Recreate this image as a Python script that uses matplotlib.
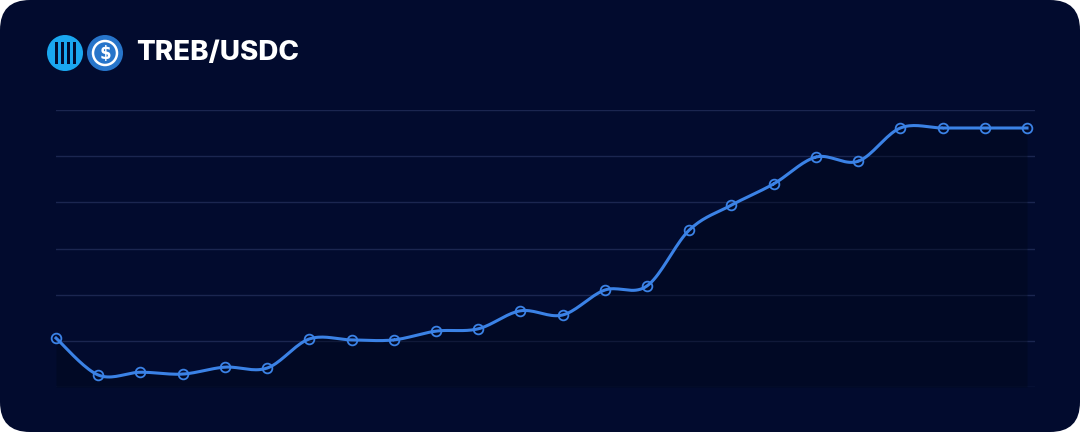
import numpy as np
import matplotlib
matplotlib.use("Agg")
import matplotlib.pyplot as plt
from matplotlib.patches import FancyBboxPatch, Circle, Rectangle

title = "TREB/USDC"
x_idx = list(range(24))
prices = [1.06, 0.26, 0.32, 0.28, 0.43, 0.41, 1.04, 1.02, 1.02, 1.21, 1.26, 1.65,
          1.56, 2.10, 2.19, 3.40, 3.94, 4.40, 4.98, 4.89, 5.61, 5.61, 5.61, 5.61]
grid_levels = [0, 1, 2, 3, 4, 5, 6]

W, H = 1080, 432
fig = plt.figure(figsize=(W/100, H/100), dpi=100)
fig.patch.set_facecolor("white")
bg = "#020B2E"
bgax = fig.add_axes([0, 0, 1, 1]); bgax.set_xlim(0, W); bgax.set_ylim(H, 0); bgax.axis("off")
bgax.add_patch(FancyBboxPatch((0, 0), W, H, boxstyle="round,pad=0,rounding_size=30",
                              fc=bg, ec="none"))
# icons
bgax.add_patch(Circle((65, 53), 18, fc="#1aa7f0", ec="none"))
for xx in [56, 62, 68, 74]:
    bgax.add_patch(Rectangle((xx - 1.5, 42), 3, 22, fc=bg, ec="none"))
bgax.add_patch(Circle((105, 53), 18, fc="#2775CA", ec="none"))
bgax.add_patch(Circle((105, 53), 12, fc="none", ec="white", lw=1.8))
bgax.text(105, 54, "$", color="white", fontsize=12, fontweight="bold", ha="center", va="center")
bgax.text(136, 53, title, color="white", fontsize=20, fontweight="heavy", family="Inter",
          ha="left", va="center")

ax = fig.add_axes([56/W, 45/H, (1035-56)/W, (387-110)/H])
ax.set_facecolor("none")
ax.set_xlim(0, 23 * (1035-56)/(1027-56)); ax.set_ylim(0, 6)
for s in ax.spines.values(): s.set_visible(False)
ax.set_xticks([]); ax.set_yticks([])
for g in grid_levels:
    ax.axhline(g, color="#1B2650", lw=1, zorder=0)

# Catmull-Rom smoothing
x = np.array(x_idx, float); y = np.array(prices, float)
px = np.concatenate([[x[0]], x, [x[-1]]]); py = np.concatenate([[y[0]], y, [y[-1]]])
t = np.linspace(0, 1, 20)
sx, sy = [], []
for i in range(1, len(px) - 2):
    p0, p1, p2, p3 = [(px[j], py[j]) for j in (i-1, i, i+1, i+2)]
    for k, arr in ((0, sx), (1, sy)):
        a0, a1, a2, a3 = p0[k], p1[k], p2[k], p3[k]
        arr.extend(0.5*((2*a1) + (-a0+a2)*t + (2*a0-5*a1+4*a2-a3)*t**2 + (-a0+3*a1-3*a2+a3)*t**3))
sx = np.array(sx); sy = np.array(sy)
ax.fill_between(sx, sy, 0, color="#000618", alpha=0.4, lw=0, zorder=1)
ax.plot(sx, sy, color="#3B82E6", lw=2.2, zorder=3, clip_on=False)
ax.plot(x, y, "o", ms=7, mfc="none", mec="#3B82E6", mew=1.3, zorder=4, clip_on=False)

fig.savefig("out.png", dpi=100, facecolor="white")
